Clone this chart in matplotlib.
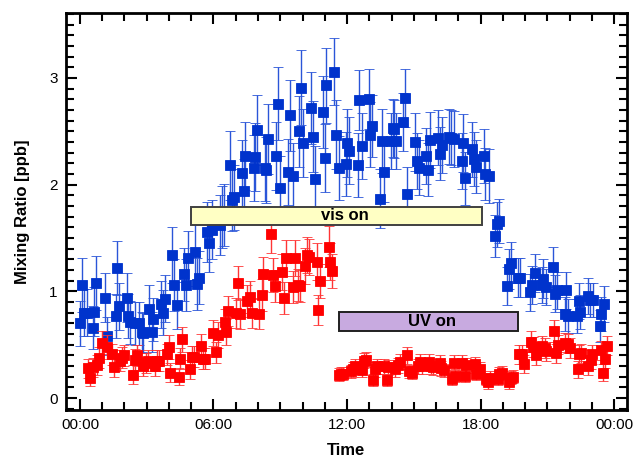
import matplotlib
matplotlib.use("Agg")
import matplotlib.pyplot as plt
from matplotlib.patches import Rectangle
from matplotlib.ticker import MultipleLocator, FuncFormatter

plt.rcParams["font.family"] = ["Liberation Sans", "DejaVu Sans"]

# --- data (time in hours since midnight, mixing ratio in ppb) ---
blue_t = [0.00, 0.10, 0.18, 0.33, 0.57, 0.63, 0.70, 1.14, 1.23, 1.60, 1.68, 1.74,
          2.10, 2.16, 2.25, 2.46, 2.67, 2.77, 2.85, 3.12, 3.22, 3.30, 3.63, 3.75,
          3.84, 4.13, 4.22, 4.34, 4.69, 4.78, 4.87, 5.17, 5.27, 5.35, 5.72, 5.81,
          5.92, 6.29, 6.38, 6.46, 6.76, 6.84, 6.92, 7.30, 7.36, 7.42, 7.80, 7.88,
          7.96, 8.31, 8.38, 8.46, 8.82, 8.91, 9.01, 9.36, 9.45, 9.55, 9.86, 9.95,
          10.04, 10.40, 10.49, 10.58, 10.91, 11.00, 11.06, 11.43, 11.52, 11.62, 11.94, 12.02,
          12.11, 12.48, 12.55, 12.65, 12.97, 13.05, 13.14, 13.48, 13.56, 13.66, 13.97, 14.05,
          14.11, 14.21, 14.53, 14.62, 14.71, 15.07, 15.13, 15.22, 15.57, 15.66, 15.73, 16.10,
          16.19, 16.25, 16.57, 16.66, 16.81, 17.15, 17.22, 17.31, 17.60, 17.69, 17.81, 18.16,
          18.22, 18.36, 18.66, 18.73, 18.82, 19.19, 19.28, 19.38, 19.68, 19.79, 20.24, 20.33,
          20.43, 20.75, 20.82, 20.93, 21.27, 21.34, 21.45, 21.78, 21.84, 21.92, 22.32, 22.40,
          22.47, 22.82, 22.92, 23.03, 23.35, 23.43, 23.53]
blue_ppb = [0.70, 1.06, 0.80, 0.80, 0.66, 0.81, 1.08, 0.94, 0.58, 0.77, 1.22, 0.86,
            0.94, 0.77, 0.71, 0.70, 0.70, 0.62, 0.61, 0.84, 0.62, 0.74, 0.88, 0.80,
            0.93, 1.34, 1.06, 0.87, 1.16, 1.06, 1.31, 1.37, 1.07, 1.13, 1.56, 1.45,
            1.58, 1.62, 1.70, 1.72, 2.18, 1.86, 1.88, 2.11, 1.94, 2.27, 2.16, 2.26,
            2.51, 2.16, 2.14, 2.43, 2.27, 2.76, 1.97, 2.12, 2.65, 2.08, 2.50, 2.91,
            2.39, 2.72, 2.45, 2.05, 2.68, 2.25, 2.93, 3.06, 2.47, 2.16, 2.19, 2.39,
            2.32, 2.18, 2.79, 2.36, 2.80, 2.47, 2.55, 1.87, 2.41, 2.12, 2.41, 2.53,
            2.52, 2.41, 2.59, 2.81, 1.91, 2.40, 2.22, 2.16, 2.27, 2.14, 2.42, 2.44,
            2.29, 2.37, 2.45, 2.44, 2.43, 2.22, 2.39, 2.06, 2.33, 2.24, 2.17, 2.27,
            2.10, 2.08, 1.52, 1.63, 1.66, 1.05, 1.21, 1.27, 1.13, 1.13, 0.99, 1.06,
            1.17, 1.06, 1.12, 1.04, 1.23, 0.98, 1.01, 0.79, 1.01, 0.77, 0.77, 0.91,
            0.81, 0.96, 0.92, 0.92, 0.68, 0.79, 0.88]
blue_err = [0.21, 0.25, 0.22, 0.22, 0.20, 0.23, 0.25, 0.23, 0.18, 0.21, 0.25, 0.22,
            0.23, 0.21, 0.20, 0.20, 0.20, 0.19, 0.19, 0.22, 0.19, 0.20, 0.22, 0.21,
            0.22, 0.26, 0.24, 0.22, 0.25, 0.24, 0.26, 0.26, 0.24, 0.25, 0.28, 0.27,
            0.28, 0.28, 0.29, 0.29, 0.32, 0.29, 0.30, 0.31, 0.30, 0.32, 0.31, 0.32,
            0.33, 0.31, 0.31, 0.33, 0.32, 0.34, 0.30, 0.31, 0.33, 0.31, 0.33, 0.35,
            0.32, 0.34, 0.33, 0.31, 0.34, 0.32, 0.35, 0.31, 0.32, 0.30, 0.30, 0.32,
            0.31, 0.30, 0.28, 0.31, 0.28, 0.30, 0.29, 0.28, 0.30, 0.28, 0.26, 0.27,
            0.27, 0.26, 0.27, 0.27, 0.26, 0.27, 0.26, 0.26, 0.26, 0.25, 0.26, 0.26,
            0.25, 0.26, 0.26, 0.26, 0.26, 0.26, 0.27, 0.25, 0.26, 0.25, 0.25, 0.25,
            0.24, 0.25, 0.20, 0.21, 0.21, 0.18, 0.19, 0.19, 0.18, 0.18, 0.17, 0.18,
            0.18, 0.17, 0.18, 0.17, 0.19, 0.17, 0.17, 0.16, 0.17, 0.16, 0.16, 0.17,
            0.16, 0.17, 0.16, 0.16, 0.15, 0.16, 0.17]

red_t = [0.37, 0.47, 0.60, 0.78, 0.87, 0.97, 1.23, 1.42, 1.51, 1.80, 1.89, 1.98,
         2.37, 2.46, 2.55, 2.85, 2.95, 3.04, 3.39, 3.48, 3.57, 3.93, 3.99, 4.05,
         4.43, 4.51, 4.60, 4.96, 5.05, 5.14, 5.45, 5.54, 5.63, 6.00, 6.09, 6.18,
         6.50, 6.58, 6.65, 7.00, 7.12, 7.19, 7.52, 7.63, 7.72, 8.06, 8.16, 8.24,
         8.58, 8.67, 8.76, 9.08, 9.17, 9.28, 9.56, 9.67, 9.79, 9.89, 10.11, 10.22,
         10.31, 10.64, 10.71, 10.77, 11.17, 11.24, 11.34,
         11.66, 11.75, 11.83, 12.17, 12.27, 12.37, 12.67, 12.77, 12.84, 13.16, 13.26, 13.34,
         13.67, 13.78, 13.85, 14.17, 14.29, 14.36, 14.70, 14.80, 14.91, 15.20, 15.27, 15.38,
         15.68, 15.79, 15.86, 16.16, 16.24, 16.34, 16.70, 16.79, 16.87, 17.18, 17.29, 17.36,
         17.74, 17.81, 17.96, 18.25, 18.35, 18.43, 18.77, 18.84, 18.96, 19.26, 19.37, 19.44,
         19.74, 19.84, 19.96, 20.28, 20.37, 20.47, 20.77, 20.88, 20.95, 21.28, 21.39, 21.46,
         21.81, 21.91, 22.00, 22.36, 22.42, 22.51, 22.84, 22.94, 23.02, 23.40, 23.49, 23.60,
         23.70]
red_ppb = [0.28, 0.19, 0.29, 0.31, 0.38, 0.52, 0.48, 0.41, 0.29, 0.35, 0.38, 0.40,
           0.22, 0.36, 0.40, 0.30, 0.33, 0.35, 0.30, 0.35, 0.35, 0.41, 0.48, 0.24,
           0.20, 0.37, 0.55, 0.27, 0.39, 0.39, 0.49, 0.37, 0.37, 0.61, 0.43, 0.59,
           0.71, 0.62, 0.82, 0.80, 1.08, 0.79, 0.91, 0.95, 0.80, 0.79, 0.97, 1.16,
           1.54, 1.15, 1.05, 1.18, 0.94, 1.31, 1.04, 1.31, 1.06, 1.05, 1.24, 1.34,
           1.32, 1.28, 0.83, 1.10, 1.42, 1.28, 1.19,
           0.22, 0.23, 0.23, 0.25, 0.27, 0.30, 0.26, 0.35, 0.36, 0.17, 0.27, 0.30,
           0.30, 0.17, 0.29, 0.27, 0.31, 0.34, 0.40, 0.25, 0.24, 0.30, 0.34, 0.30,
           0.34, 0.30, 0.29, 0.33, 0.28, 0.26, 0.18, 0.33, 0.21, 0.33, 0.21, 0.31,
           0.32, 0.23, 0.27, 0.18, 0.15, 0.19, 0.18, 0.23, 0.24, 0.15, 0.19, 0.20,
           0.41, 0.41, 0.32, 0.53, 0.48, 0.40, 0.49, 0.47, 0.44, 0.63, 0.42, 0.50,
           0.52, 0.51, 0.47, 0.27, 0.41, 0.42, 0.30, 0.36, 0.41, 0.45, 0.24, 0.37,
           0.49]
red_err = [0.09, 0.08, 0.09, 0.09, 0.10, 0.11, 0.11, 0.10, 0.09, 0.10, 0.10, 0.10,
           0.09, 0.10, 0.10, 0.09, 0.09, 0.10, 0.09, 0.10, 0.10, 0.10, 0.11, 0.09,
           0.08, 0.10, 0.12, 0.09, 0.10, 0.10, 0.11, 0.10, 0.10, 0.12, 0.10, 0.12,
           0.13, 0.12, 0.14, 0.14, 0.16, 0.14, 0.15, 0.15, 0.14, 0.14, 0.15, 0.16,
           0.18, 0.16, 0.15, 0.17, 0.15, 0.17, 0.15, 0.17, 0.15, 0.15, 0.17, 0.17,
           0.17, 0.17, 0.14, 0.16, 0.19, 0.17, 0.16,
           0.06, 0.06, 0.06, 0.06, 0.07, 0.07, 0.06, 0.07, 0.07, 0.06, 0.07, 0.07,
           0.07, 0.06, 0.07, 0.07, 0.07, 0.07, 0.08, 0.06, 0.06, 0.07, 0.07, 0.07,
           0.07, 0.07, 0.07, 0.07, 0.07, 0.06, 0.06, 0.07, 0.06, 0.07, 0.06, 0.07,
           0.07, 0.06, 0.07, 0.06, 0.06, 0.06, 0.06, 0.06, 0.06, 0.06, 0.06, 0.06,
           0.09, 0.09, 0.08, 0.10, 0.09, 0.09, 0.09, 0.09, 0.09, 0.10, 0.09, 0.09,
           0.09, 0.09, 0.09, 0.08, 0.09, 0.09, 0.08, 0.09, 0.09, 0.09, 0.08, 0.09,
           0.09]

# lamp periods [h]
vis_on = (4.98, 18.07)
uv_on = (11.65, 19.70)

fig = plt.figure(figsize=(6.34, 4.58), dpi=100)
ax = fig.add_axes([0.104, 0.105, 0.885, 0.867])

ax.errorbar(blue_t, blue_ppb, yerr=blue_err, fmt="s", color="#0033cc",
            ecolor="#2a55d8", elinewidth=1.0, capsize=3.3, capthick=1.0,
            ms=6.6, mec="#0033cc", mew=0.6, zorder=2)
ax.errorbar(red_t, red_ppb, yerr=red_err, fmt="s", color="#ff0000",
            ecolor="#ff3535", elinewidth=1.0, capsize=3.3, capthick=1.0,
            ms=6.6, mec="#ff0000", mew=0.6, zorder=3)

# lamp boxes
ax.add_patch(Rectangle((vis_on[0], 1.625), vis_on[1] - vis_on[0], 0.165,
                       facecolor="#ffffc4", edgecolor="#404040", lw=1.4, zorder=5))
ax.text(vis_on[0] + 0.53 * (vis_on[1] - vis_on[0]), 1.707, "vis on", ha="center",
        va="center", fontsize=12, fontweight="bold", zorder=6)
ax.add_patch(Rectangle((uv_on[0], 0.63), uv_on[1] - uv_on[0], 0.175,
                       facecolor="#c8aae0", edgecolor="#202020", lw=1.4, zorder=5))
ax.text(uv_on[0] + 0.52 * (uv_on[1] - uv_on[0]), 0.715, "UV on", ha="center",
        va="center", fontsize=12, fontweight="bold", zorder=6)

ax.set_xlim(-0.63, 24.58)
ax.set_ylim(-0.11, 3.61)
ax.xaxis.set_major_locator(MultipleLocator(6))
ax.xaxis.set_minor_locator(MultipleLocator(1))
ax.xaxis.set_major_formatter(FuncFormatter(lambda v, p: "%02d:00" % (int(round(v)) % 24)))
ax.yaxis.set_major_locator(MultipleLocator(1))
ax.yaxis.set_minor_locator(MultipleLocator(0.1))

ax.tick_params(which="both", direction="in", top=True, right=True, width=1.5,
               labelsize=11, pad=6)
ax.tick_params(which="major", length=8)
ax.tick_params(which="minor", length=6)
for s in ax.spines.values():
    s.set_linewidth(2)

ax.set_xlabel("Time", fontsize=12, fontweight="bold", labelpad=8)
ax.set_ylabel("Mixing Ratio [ppb]", fontsize=12, fontweight="bold", labelpad=14)

fig.savefig("out.png", dpi=100)
